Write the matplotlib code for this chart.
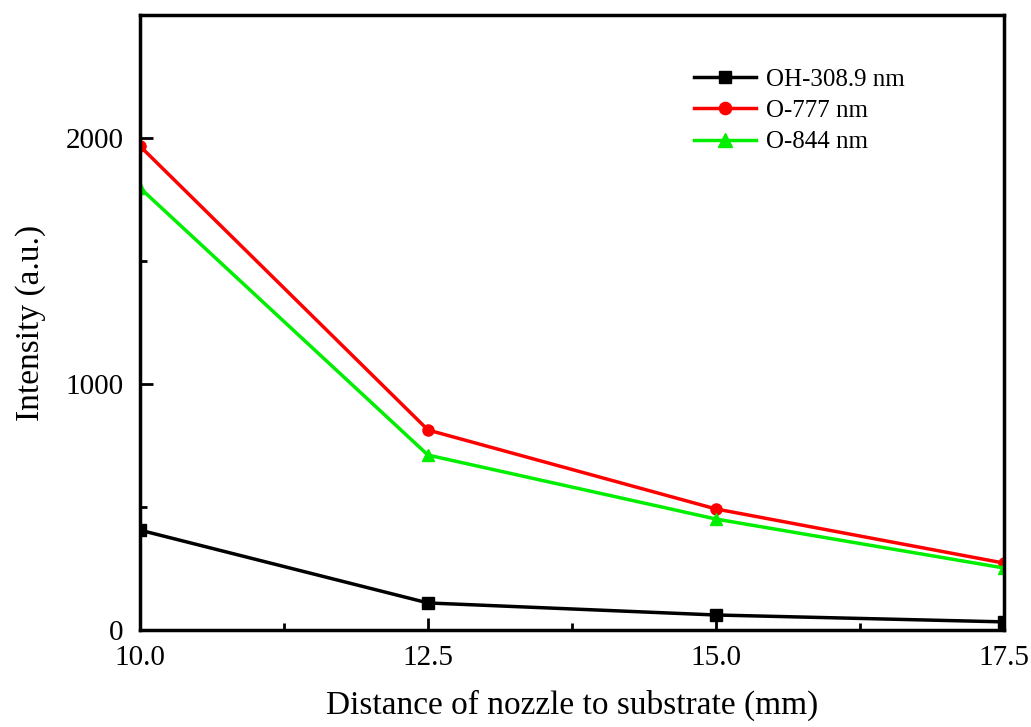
import matplotlib
matplotlib.use("Agg")
import matplotlib.pyplot as plt
from matplotlib.ticker import MultipleLocator

plt.rcParams['font.family'] = ['Liberation Serif', 'DejaVu Serif']

distance = [10.0, 12.5, 15.0, 17.5]
oh_309 = [406, 110, 61, 33]
o_777 = [1967, 813, 492, 272]
o_844 = [1797, 711, 451, 252]

fig = plt.figure(figsize=(10.31, 7.27), dpi=100)
ax = fig.add_axes([140 / 1031, 1 - 630 / 727, 864 / 1031, 615 / 727])

ax.plot(distance, oh_309, color='black', marker='s', markersize=8, lw=2.5,
        label='OH-308.9 nm')
ax.plot(distance, o_777, color='red', marker='o', markersize=8, lw=2.5,
        label='O-777 nm')
ax.plot(distance, o_844, color='#00ee00', marker='^', markersize=9, lw=2.5,
        label='O-844 nm')

ax.set_xlim(10, 17.5)
ax.set_ylim(0, 2500)
ax.set_xticks(distance)
ax.set_xticklabels(['10.0', '12.5', '15.0', '17.5'])
ax.set_yticks([0, 1000, 2000])
ax.xaxis.set_minor_locator(MultipleLocator(1.25))
ax.yaxis.set_minor_locator(MultipleLocator(500))
ax.tick_params(which='both', direction='in', top=False, right=False,
               width=2, labelsize=21)
ax.tick_params(which='major', length=9)
ax.tick_params(which='minor', length=5)
ax.tick_params(axis='x', pad=11)
ax.tick_params(axis='y', pad=12)
for s in ax.spines.values():
    s.set_linewidth(2.5)

ax.set_xlabel('Distance of nozzle to substrate (mm)', fontsize=24, labelpad=13)
ax.set_ylabel('Intensity (a.u.)', fontsize=24, labelpad=14)

ax.legend(loc='upper left', bbox_to_anchor=(0.615, 0.95), frameon=False,
          fontsize=18, handlelength=2.5, labelspacing=0.35, handletextpad=0.4,
          markerscale=1.1)

fig.savefig('out.png', dpi=100)
